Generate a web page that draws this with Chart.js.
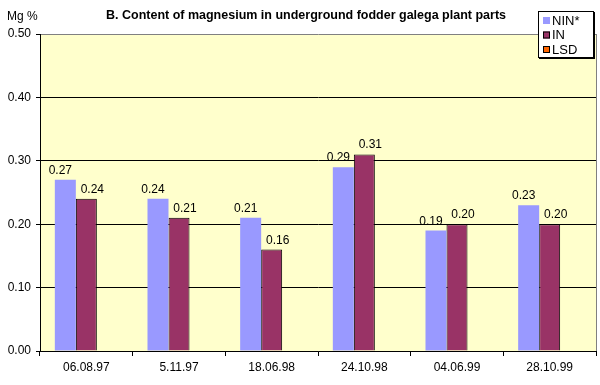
<!DOCTYPE html>
<html>
<head>
<meta charset="utf-8">
<script src="https://cdn.jsdelivr.net/npm/chart.js@4"></script>
<style>
  html, body { margin: 0; padding: 0; background: #fff; }
  #wrap { width: 600px; height: 385px; position: relative; }
</style>
</head>
<body>
<div id="wrap"><canvas id="chart" width="600" height="385"></canvas></div>
<script>
// chart data
const dates = ['06.08.97', '5.11.97', '18.06.98', '24.10.98', '04.06.99', '28.10.99'];
const ninValues = [0.27, 0.24, 0.21, 0.29, 0.19, 0.23];
const inValues = [0.24, 0.21, 0.16, 0.31, 0.20, 0.20];
const lsdValues = [null, null, null, null, null, null];
const seriesNames = ['NIN*', 'IN', 'LSD'];
const seriesColors = ['#9999FF', '#993366', '#FF6600'];

const chartTitle = 'B. Content of magnesium in underground fodder galega plant parts';
const yTitle = 'Mg %';
const FONT = '"Liberation Sans", Arial, sans-serif';

// label shift per series (excel placed them a bit off-centre)
const labelShift = [-5, 6, 0];

// background, frame, title, legend, value labels
const decorPlugin = {
    id: 'decor',
    beforeDraw(chart) {
        const { ctx, chartArea: a } = chart;
        ctx.save();
        ctx.fillStyle = '#FFFFCC';
        ctx.fillRect(a.left, a.top, a.right - a.left, a.bottom - a.top);
        ctx.restore();
    },
    afterDatasetsDraw(chart) {
        const { ctx, chartArea: a } = chart;
        ctx.save();
        // right frame line
        ctx.strokeStyle = '#808080';
        ctx.lineWidth = 1;
        ctx.beginPath();
        ctx.moveTo(Math.round(a.right) + 0.5, a.top);
        ctx.lineTo(Math.round(a.right) + 0.5, a.bottom);
        ctx.stroke();

        // value labels above bars
        ctx.fillStyle = '#000';
        ctx.font = '12px ' + FONT;
        ctx.textAlign = 'center';
        ctx.textBaseline = 'alphabetic';
        chart.data.datasets.forEach((ds, i) => {
            const meta = chart.getDatasetMeta(i);
            meta.data.forEach((bar, j) => {
                const v = ds.data[j];
                if (v === null) return;
                ctx.fillText(v.toFixed(2), bar.x + labelShift[i], bar.y - 6);
            });
        });

        // title and axis title
        ctx.font = 'bold 12.5px ' + FONT;
        ctx.textBaseline = 'middle';
        ctx.fillText(chartTitle, 306, 16);
        ctx.font = '12px ' + FONT;
        ctx.textAlign = 'left';
        ctx.fillText(yTitle, 7, 17);

        // legend
        const lx = 538, ly = 11, lw = 56, lh = 47;
        ctx.fillStyle = '#000';
        ctx.fillRect(lx + 1, ly + 1, lw, lh);
        ctx.fillStyle = '#fff';
        ctx.fillRect(lx, ly, lw, lh);
        ctx.strokeStyle = '#000';
        ctx.strokeRect(lx + 0.5, ly + 0.5, lw - 1, lh - 1);
        ctx.font = '13px ' + FONT;
        seriesNames.forEach((name, i) => {
            const y = ly + 9 + i * 14.5;
            ctx.fillStyle = seriesColors[i];
            ctx.fillRect(lx + 5, y - 3, 7, 7);
            if (i > 0) {
                ctx.strokeStyle = '#000';
                ctx.strokeRect(lx + 5.5, y - 2.5, 6, 6);
            }
            ctx.fillStyle = '#000';
            ctx.fillText(name, lx + 14, y + 1);
        });
        ctx.restore();
    }
};

const ctx = document.getElementById('chart').getContext('2d');
new Chart(ctx, {
    type: 'bar',
    data: {
        labels: dates,
        datasets: [
            { label: seriesNames[0], data: ninValues, backgroundColor: seriesColors[0], borderWidth: 0 },
            { label: seriesNames[1], data: inValues, backgroundColor: seriesColors[1], borderColor: '#000', borderWidth: 1 },
            { label: seriesNames[2], data: lsdValues, backgroundColor: seriesColors[2], borderColor: '#000', borderWidth: 1 }
        ]
    },
    options: {
        responsive: false,
        animation: false,
        devicePixelRatio: 1,
        layout: { padding: { top: 34, right: 4, left: 0, bottom: 0 } },
        datasets: { bar: { barPercentage: 1, categoryPercentage: 0.68 } },
        plugins: {
            legend: { display: false },
            tooltip: { enabled: false }
        },
        scales: {
            x: {
                afterFit(scale) { scale.height = 34; },
                grid: { drawOnChartArea: false, color: '#000', tickLength: 5, offset: true },
                border: { color: '#000' },
                ticks: { color: '#000', font: { family: FONT, size: 12 }, padding: 4, maxRotation: 0, autoSkip: false }
            },
            y: {
                min: 0,
                max: 0.5,
                afterFit(scale) { scale.width = 40; },
                grid: {
                    color: c => c.tick.value === 0.5 ? '#808080' : '#000',
                    tickColor: '#000',
                    tickLength: 4
                },
                border: { color: '#000' },
                ticks: {
                    stepSize: 0.1,
                    color: '#000',
                    font: { family: FONT, size: 12 },
                    padding: 5,
                    callback: v => v.toFixed(2)
                }
            }
        }
    },
    plugins: [decorPlugin]
});
</script>
</body>
</html>
